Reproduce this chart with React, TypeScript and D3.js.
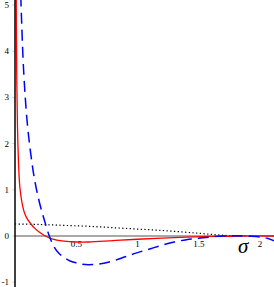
import React, { useRef, useEffect } from 'react';
import * as d3 from 'd3';

// curve samples [sigma, value]
const redSolid: [number, number][] = [
  [0.01, 5.2], [0.012, 4.2], [0.015, 3.3], [0.02, 2.4], [0.03, 1.5], [0.04, 1.05],
  [0.06, 0.68], [0.08, 0.48], [0.1, 0.37], [0.13, 0.26], [0.16, 0.17], [0.2, 0.08],
  [0.24, 0.01], [0.3, -0.06], [0.4, -0.11], [0.5, -0.13], [0.6, -0.13], [0.8, -0.1],
  [1.0, -0.07], [1.2, -0.045], [1.4, -0.025], [1.6, -0.01], [1.8, 0], [2.12, 0],
];
const blueDashed: [number, number][] = [
  [0.047, 5.2], [0.07, 3.6], [0.1, 2.45], [0.13, 1.75], [0.16, 1.22], [0.2, 0.72],
  [0.24, 0.34], [0.28, 0], [0.32, -0.24], [0.36, -0.38], [0.4, -0.46], [0.45, -0.54],
  [0.5, -0.58], [0.55, -0.61], [0.6, -0.62], [0.7, -0.6], [0.8, -0.54], [0.9, -0.45],
  [1.0, -0.36], [1.1, -0.28], [1.2, -0.2], [1.3, -0.13], [1.4, -0.08], [1.5, -0.05],
  [1.6, -0.02], [1.7, 0], [1.8, 0.005], [1.9, -0.005], [2.0, -0.02], [2.06, -0.05], [2.12, -0.11],
];
const blackDotted: [number, number][] = [
  [0, 0.26], [0.2, 0.25], [0.4, 0.23], [0.6, 0.21], [0.8, 0.18], [1.0, 0.15],
  [1.2, 0.12], [1.4, 0.08], [1.5, 0.06], [1.6, 0.035], [1.7, 0.015], [1.8, 0.003], [1.9, 0],
];

const xTicks = [0.5, 1, 1.5, 2];
const xTickLabels = ['0.5', '1', '1.5', '2'];
const yTicks = [-1, 0, 1, 2, 3, 4, 5];
const yTickLabels = ['-1', '0', '1', '2', '3', '4', '5'];

const App = () => {
  const svgRef = useRef<SVGSVGElement>(null);

  useEffect(() => {
    const width = 274, height = 287;
    const svg = d3.select(svgRef.current)
      .attr('width', width)
      .attr('height', height);
    svg.selectAll('*').remove();

    const x = d3.scaleLinear().domain([0, 2]).range([15, 260]);
    const y = d3.scaleLinear().domain([-1, 5]).range([282.2, 5]);

    svg.append('defs').append('clipPath').attr('id', 'plot')
      .append('rect').attr('x', 15).attr('y', 0).attr('width', width - 15).attr('height', height);

    // zero line
    svg.append('line')
      .attr('x1', x(0)).attr('x2', width)
      .attr('y1', y(0)).attr('y2', y(0))
      .attr('stroke', '#555').attr('stroke-width', 1.2);

    // y tick marks and labels
    svg.append('g').selectAll('line').data(yTicks).join('line')
      .attr('x1', x(0) - 3).attr('x2', x(0))
      .attr('y1', d => y(d)).attr('y2', d => y(d))
      .attr('stroke', '#bbb').attr('stroke-width', 0.6);
    svg.append('g').selectAll('text').data(yTicks).join('text')
      .attr('x', 9).attr('y', d => y(d) + 3)
      .attr('text-anchor', 'end')
      .attr('font-family', 'Liberation Serif, serif')
      .attr('font-size', 9)
      .text((d, i) => yTickLabels[i]);

    // x tick labels
    svg.append('g').selectAll('text').data(xTicks).join('text')
      .attr('x', d => x(d)).attr('y', y(0) + 11)
      .attr('text-anchor', 'middle')
      .attr('font-family', 'Liberation Serif, serif')
      .attr('font-size', 9)
      .text((d, i) => xTickLabels[i]);

    const line = d3.line<[number, number]>()
      .x(d => x(d[0]))
      .y(d => y(d[1]))
      .curve(d3.curveCatmullRom.alpha(0.5));

    const g = svg.append('g').attr('clip-path', 'url(#plot)');

    g.append('path').datum(blackDotted)
      .attr('fill', 'none').attr('stroke', 'black').attr('stroke-width', 1.2)
      .attr('stroke-dasharray', '1.3,2.4').attr('d', line);

    g.append('path').datum(redSolid)
      .attr('fill', 'none').attr('stroke', '#ff0000').attr('stroke-width', 1.3)
      .attr('d', line);

    g.append('path').datum(blueDashed)
      .attr('fill', 'none').attr('stroke', '#0000ff').attr('stroke-width', 1.5)
      .attr('stroke-dasharray', '11,6').attr('d', line);

    // y axis
    svg.append('line')
      .attr('x1', x(0)).attr('x2', x(0))
      .attr('y1', 0).attr('y2', height)
      .attr('stroke', 'black').attr('stroke-width', 1.5);

    // axis label
    svg.append('text')
      .attr('x', 238).attr('y', 253)
      .attr('font-family', 'Liberation Serif, serif')
      .attr('font-style', 'italic')
      .attr('font-size', 21)
      .text('σ');
  }, []);

  return <svg ref={svgRef} style={{ position: 'absolute', left: 0, top: 0 }}></svg>;
};

export default App;
